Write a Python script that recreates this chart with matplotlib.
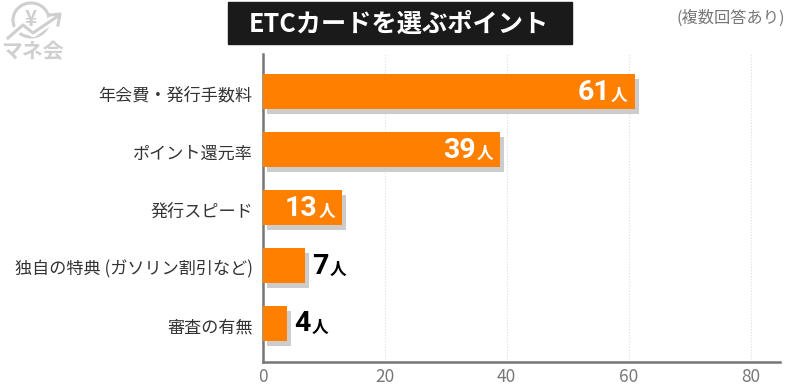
import matplotlib
matplotlib.use("Agg")
import matplotlib.pyplot as plt
from matplotlib.patches import Arc, Rectangle
from matplotlib.lines import Line2D
from matplotlib.transforms import ScaledTranslation

plt.rcParams['font.family'] = ['Noto Sans CJK JP', 'DejaVu Sans']

categories = ['年会費・発行手数料', 'ポイント還元率', '発行スピード', '独自の特典 (ガソリン割引など)', '審査の有無']
values = [61, 39, 13, 7, 4]
xticks = [0, 20, 40, 60, 80]
title = 'ETCカードを選ぶポイント'
note = '(複数回答あり)'
unit = '人'

W, H = 800, 392
fig = plt.figure(figsize=(W/100, H/100), dpi=100, facecolor='white')
ax = fig.add_axes([262.5/W, 1-361.5/H, (780-262.5)/W, (361.5-53.5)/H])

ax.set_xlim(0, 517.5/6.1)
ax.set_ylim(4.66, -0.66)
ypos = list(range(len(categories)))
bh = 0.6
orange = '#FF7F00'
shadow = ax.transData + ScaledTranslation(0.04, -0.05, fig.dpi_scale_trans)
ax.barh(ypos, values, height=bh, color='#CCCCCC', zorder=2, transform=shadow)
ax.barh(ypos, values, height=bh, color=orange, zorder=3)

ax.set_xticks(xticks)
ax.set_yticks(ypos)
ax.set_yticklabels(categories, fontsize=12.3, color='#333333')
ax.tick_params(axis='y', length=0, pad=7)
for lab in ax.get_yticklabels():
    lab.set_transform(lab.get_transform() + ScaledTranslation(0, -0.02, fig.dpi_scale_trans))
ax.tick_params(axis='x', length=0, pad=5, labelsize=12.5, labelcolor='#777777')
ax.grid(axis='x', color='#DDDDDD', linestyle=':', linewidth=0.8, zorder=1)
ax.set_axisbelow(True)
for s in ['top', 'right']:
    ax.spines[s].set_visible(False)
for s in ['left', 'bottom']:
    ax.spines[s].set_color('#777777')
    ax.spines[s].set_linewidth(1.8)

num_font = ['Roboto', 'DejaVu Sans']
for y, v in zip(ypos, values):
    inside = v >= 10
    c = 'white' if inside else 'black'
    if inside:
        ax.annotate(f'{v}', (v, y), xytext=(-17.5, -0.5), textcoords='offset points', ha='right', va='center',
                    fontsize=20.5, fontweight='bold', color=c, zorder=5, family=num_font)
        ax.annotate(unit, (v, y), xytext=(-5, -3), textcoords='offset points', ha='right', va='center',
                    fontsize=12, fontweight='bold', color=c, zorder=5)
    else:
        ax.annotate(f'{v}', (v, y), xytext=(5, -0.5), textcoords='offset points', ha='left', va='center',
                    fontsize=20.5, fontweight='bold', color=c, zorder=5, family=num_font)
        ax.annotate(unit, (v, y), xytext=(17.5, -3), textcoords='offset points', ha='left', va='center',
                    fontsize=12, fontweight='bold', color=c, zorder=5)

# title banner
fig.patches.append(Rectangle((228/W, 1-44/H), (572-228)/W, 42/H, transform=fig.transFigure, color='#1A1A1A'))
fig.text(399/W, 1-24.5/H, title, ha='center', va='center', color='white', fontsize=18.2, fontweight='bold')
fig.text(731/W, 1-18/H, note, ha='center', va='center', color='#777777', fontsize=11.7)

# logo
g = '#CFCFCF'
fig.text(32/W, 1-52/H, 'マネ会', ha='center', va='center', color=g, fontsize=15, fontweight='bold')
fig.text(31/W, 1-20/H, '¥', ha='center', va='center', color=g, fontsize=15, fontweight='bold')
la = fig.add_axes([0, 1-42/H, 70/W, 42/H]); la.set_xlim(0, 70); la.set_ylim(42, 0); la.axis('off'); la.patch.set_alpha(0)
la.add_patch(Arc((31, 20), 36, 34, theta1=0, theta2=360, color=g, lw=2.2))
path_x, path_y = [8, 23, 33, 58], [38, 25, 33, 16]
la.add_line(Line2D(path_x, path_y, color='white', lw=6))
la.add_line(Line2D(path_x, path_y, color=g, lw=2.2))
la.add_line(Line2D([50, 60, 58], [15, 14, 25], color=g, lw=2.2))

fig.savefig('out.png', dpi=100)
